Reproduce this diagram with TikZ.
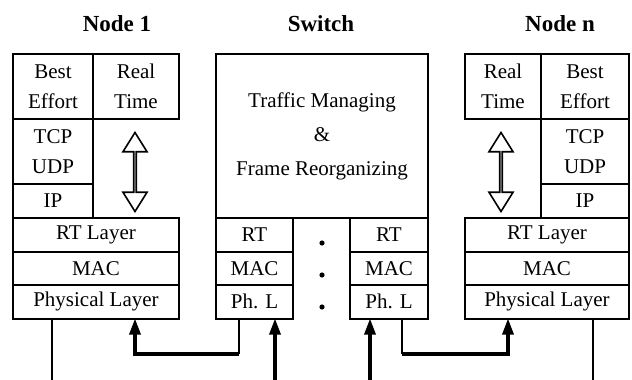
\documentclass[tikz,border=0pt]{standalone}
\usepackage{fontspec}
\setmainfont{Liberation Serif}
\usetikzlibrary{arrows.meta,shapes.arrows}

\begin{document}
\begin{tikzpicture}[x=0.5pt, y=-0.5pt,
	zelle/.style={draw, line width=1pt, inner sep=0pt, outer sep=0pt, anchor=north west,
		align=center, font=\fontsize{10.5}{15}\selectfont},
	titel/.style={font=\fontsize{11.5}{14}\selectfont\bfseries},
	doppelpfeil/.style={draw, line width=0.8pt, double arrow, rotate=90, inner sep=0pt,
		minimum height=39.5pt, minimum width=12pt, double arrow head extend=3.5pt,
		double arrow tip angle=64},
	leitung/.style={line width=1pt},
	sendung/.style={line width=1.6pt, -{Triangle[length=8pt, width=5.5pt]}}]
	
	\useasboundingbox (0,0) rectangle (632,380);
	
	% Überschriften
	\node[titel] (t1) at (117,24) {Node 1};
	\node[titel] (ts) at (321,24) {Switch};
	\node[titel] (tn) at (560,24) {Node n};
	
	% Knoten 1: obere Schichten
	\node[zelle, minimum width=40pt, minimum height=32.5pt] (n1be) at (13,54) {Best\\Effort};
	\node[zelle, minimum width=43pt, minimum height=32.5pt] (n1rt) at (93,54) {Real\\Time};
	\node[zelle, minimum width=40pt, minimum height=32.5pt] (n1tcp) at (13,119) {TCP\\UDP};
	\node[zelle, minimum width=40pt, minimum height=17pt] (n1ip) at (13,184) {IP};
	
	% Knoten 1: untere Schichten
	\node[zelle, minimum width=83pt, minimum height=16.75pt] (n1rtl) at (13,218) {RT Layer};
	\node[zelle, minimum width=83pt, minimum height=16.75pt] (n1mac) at (13,251.5) {MAC};
	\node[zelle, minimum width=83pt, minimum height=16.75pt] (n1phy) at (13,285) {Physical Layer};
	
	% Durchgriff Echtzeit
	\node[doppelpfeil] (n1pf) at (135,172) {};
	
	% Switch
	\node[zelle, minimum width=106pt, minimum height=82pt, font=\fontsize{10.5}{17}\selectfont]
	(sw) at (216,54) {Traffic Managing\\\&\\Frame Reorganizing};
	
	\node[zelle, minimum width=38.5pt, minimum height=16.75pt] (swlrt) at (216,218) {RT};
	\node[zelle, minimum width=38.5pt, minimum height=16.75pt] (swlmac) at (216,251.5) {MAC};
	\node[zelle, minimum width=38.5pt, minimum height=16.75pt] (swlph) at (216,285) {Ph. L};
	
	\node[zelle, minimum width=39pt, minimum height=16.75pt] (swrrt) at (350,218) {RT};
	\node[zelle, minimum width=39pt, minimum height=16.75pt] (swrmac) at (350,251.5) {MAC};
	\node[zelle, minimum width=39pt, minimum height=16.75pt] (swrph) at (350,285) {Ph. L};
	
	% weitere Ports
	\fill (322,243) circle (1.3pt);
	\fill (322,275) circle (1.3pt);
	\fill (322,307) circle (1.3pt);
	
	% Knoten n: obere Schichten
	\node[zelle, minimum width=38pt, minimum height=32.5pt] (nnrt) at (465,54) {Real\\Time};
	\node[zelle, minimum width=44pt, minimum height=32.5pt] (nnbe) at (541,54) {Best\\Effort};
	\node[zelle, minimum width=44pt, minimum height=32.5pt] (nntcp) at (541,119) {TCP\\UDP};
	\node[zelle, minimum width=44pt, minimum height=17pt] (nnip) at (541,184) {IP};
	
	% Knoten n: untere Schichten
	\node[zelle, minimum width=82pt, minimum height=16.75pt] (nnrtl) at (465,218) {RT Layer};
	\node[zelle, minimum width=82pt, minimum height=16.75pt] (nnmac) at (465,251.5) {MAC};
	\node[zelle, minimum width=82pt, minimum height=16.75pt] (nnphy) at (465,285) {Physical Layer};
	
	\node[doppelpfeil] (nnpf) at (501,172) {};
	
	% Leitungen
	\coordinate (n1aus) at (52,380);
	\coordinate (s1ein) at (275,380);
	\coordinate (s2ein) at (370,380);
	\coordinate (nnaus) at (593,380);
	\coordinate (e1) at (239,354);
	\coordinate (e2) at (402,354);
	\coordinate (e3) at (508,354);
	
	\draw[leitung] (n1phy.south -| n1aus) -- (n1aus);
	\draw[leitung] (nnphy.south -| nnaus) -- (nnaus);
	
	\draw[sendung] (s1ein) -- (s1ein |- swlph.south);
	\draw[sendung] (s2ein) -- (s2ein |- swrph.south);
	
	\draw[leitung] (swlph.south -| e1) -- (e1);
	\draw[sendung] (e1) -| (n1phy.south -| n1pf);
	
	\draw[leitung] (swrph.south -| e2) -- (e2);
	\draw[sendung] (e2) -- (e3) -- (e3 |- nnphy.south);
	
\end{tikzpicture}
\end{document}
